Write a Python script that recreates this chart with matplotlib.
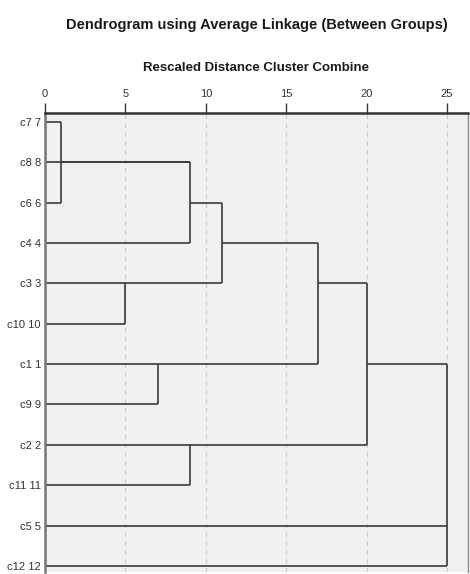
import matplotlib.pyplot as plt
import matplotlib.font_manager as fm

#Labels of the cases, top to bottom
labels = ["c7 7", "c8 8", "c6 6", "c4 4", "c3 3", "c10 10",
          "c1 1", "c9 9", "c2 2", "c11 11", "c5 5", "c12 12"]

#Merges: (children, rescaled distance, row where the new cluster line is drawn, name)
merges = [
    (["c7 7", "c6 6"], 1, 1, "a"),
    (["a", "c8 8", "c4 4"], 9, 2, "b"),
    (["c3 3", "c10 10"], 5, 4, "d"),
    (["b", "d"], 11, 3, "e"),
    (["c1 1", "c9 9"], 7, 6, "f"),
    (["e", "f"], 17, 4, "g"),
    (["c2 2", "c11 11"], 9, 8, "h"),
    (["g", "h"], 20, 6, "i"),
    (["i", "c5 5", "c12 12"], 25, 9, "j"),
]

xticks = [0, 5, 10, 15, 20, 25]

#Pick a narrow font if it exists
names = set(f.name for f in fm.fontManager.ttflist)
fam = 'Liberation Sans Narrow' if 'Liberation Sans Narrow' in names else 'Liberation Sans'
plt.rcParams['font.family'] = [fam, 'DejaVu Sans']

fig = plt.figure(figsize=(4.7, 5.74), dpi=100)
ax = fig.add_axes([45/470, 2/574, 423/470, 459/574])
ax.set_facecolor('#f0f0f0')

#Each cluster keeps (row, distance)
nodes = {lab: (i, 0) for i, lab in enumerate(labels)}
line_col = '#3a3a3a'
for children, dist, row, name in merges:
    rows = []
    for c in children:
        r, d = nodes[c]
        ax.plot([d, dist], [r, r], color=line_col, lw=1.2, solid_capstyle='butt')
        rows.append(r)
    ax.plot([dist, dist], [min(rows), max(rows)], color=line_col, lw=1.2, solid_capstyle='butt')
    nodes[name] = (row, dist)

ax.set_xlim(0, 26.3)
ax.set_ylim(11.15, -0.22)

#Dashed guide lines
for t in xticks[1:]:
    ax.axvline(t, color='#c8c8c8', lw=0.8, ls=(0, (4, 4)), zorder=0)

ax.xaxis.tick_top()
ax.set_xticks(xticks)
ax.set_xticklabels([str(t) for t in xticks], fontsize=8, color='#333333')
ax.tick_params(axis='x', direction='out', length=7, width=1, color='#333333', pad=3)
ax.set_yticks(range(len(labels)))
ax.set_yticklabels(labels, fontsize=8, color='#333333')
ax.tick_params(axis='y', length=0, pad=3)

ax.spines['top'].set_linewidth(1.8)
ax.spines['top'].set_color('#333333')
ax.spines['left'].set_linewidth(1.8)
ax.spines['left'].set_color('#777777')
ax.spines['right'].set_linewidth(1)
ax.spines['right'].set_color('#888888')
ax.spines['bottom'].set_visible(False)

fig.text(257/470, 1-25/574, 'Dendrogram using Average Linkage (Between Groups)',
         ha='center', va='center', fontsize=10.5, fontweight='bold', color='#1a1a1a')
fig.text(256/470, 1-68/574, 'Rescaled Distance Cluster Combine',
         ha='center', va='center', fontsize=9.5, fontweight='bold', color='#1a1a1a')

plt.savefig('out.png', dpi=100)
